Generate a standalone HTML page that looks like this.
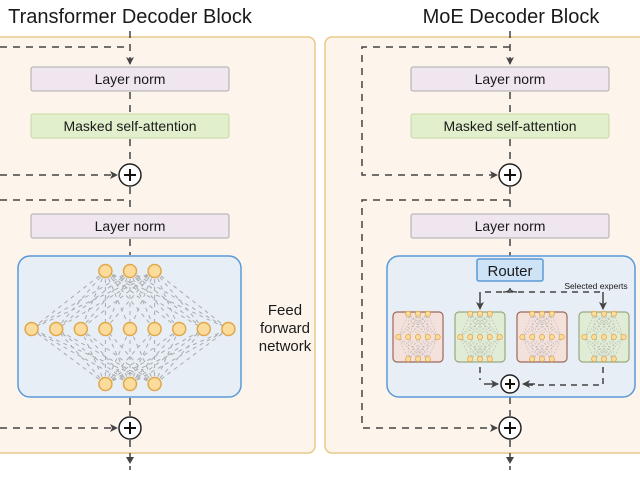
<!DOCTYPE html>
<html><head><meta charset="utf-8"><style>
html,body{margin:0;padding:0;background:#fff;width:640px;height:480px;overflow:hidden}
text{font-family:"Liberation Sans",sans-serif;fill:#1a1a1a}
</style></head><body>
<svg id="s" width="640" height="480" viewBox="0 0 640 480" xmlns="http://www.w3.org/2000/svg">
<defs>
<marker id="a" markerWidth="8" markerHeight="8" refX="7" refY="4" orient="auto" markerUnits="userSpaceOnUse"><path d="M0,0 L8,4 L0,8 L2,4z" fill="#444"/></marker>
</defs>
<text x="130" y="23" font-size="20" text-anchor="middle">Transformer Decoder Block</text>
<text x="511" y="23" font-size="20" text-anchor="middle">MoE Decoder Block</text>
<rect x="-10" y="37" width="325" height="416" rx="7" fill="#fdf5ec" stroke="#e8c98a" stroke-width="1.5"/>
<rect x="325" y="37" width="330" height="416" rx="7" fill="#fdf5ec" stroke="#e8c98a" stroke-width="1.5"/>
<g stroke="#444" stroke-width="1.5" fill="none" stroke-dasharray="7,6">
<path d="M130,31 V64" marker-end="url(#a)"/>
<path d="M0,47 H130"/>
<path d="M130,92 V113 M130,139 V163 M130,187 V213 M130,239 V255 M130,398 V416 M130,440 V470"/>
<path d="M0,175 H117" marker-end="url(#a)"/>
<path d="M0,200 H130"/>
<path d="M0,428 H117" marker-end="url(#a)"/>
<path d="M510,31 V64" marker-end="url(#a)"/>
<path d="M510,47 H362 V175 H497" marker-end="url(#a)"/>
<path d="M510,92 V113 M510,139 V163 M510,187 V213 M510,239 V258 M510,397 V416 M510,440 V470"/>
<path d="M510,200 H362 V428 H497" marker-end="url(#a)"/>
</g>
<path d="M130,464 l-4,-7 h8z M510,464 l-4,-7 h8z" fill="#444"/>
<g font-size="14" text-anchor="middle">
<rect x="31" y="67" width="198" height="24" rx="2" fill="#efe6ef" stroke="#aaa"/><text x="130" y="84">Layer norm</text>
<rect x="31" y="114" width="198" height="24" rx="2" fill="#e1efcc" stroke="#c3d9a3"/><text x="130" y="131">Masked self-attention</text>
<rect x="31" y="214" width="198" height="24" rx="2" fill="#efe6ef" stroke="#aaa"/><text x="130" y="231">Layer norm</text>
<rect x="411" y="67" width="198" height="24" rx="2" fill="#efe6ef" stroke="#aaa"/><text x="510" y="84">Layer norm</text>
<rect x="411" y="114" width="198" height="24" rx="2" fill="#e1efcc" stroke="#c3d9a3"/><text x="510" y="131">Masked self-attention</text>
<rect x="411" y="214" width="198" height="24" rx="2" fill="#efe6ef" stroke="#aaa"/><text x="510" y="231">Layer norm</text>
</g>
<rect x="18" y="256" width="223" height="141" rx="12" fill="#e8eef5" stroke="#5a9ad6" stroke-width="1.5"/>
<rect x="387" y="256" width="248" height="141" rx="12" fill="#e8eef5" stroke="#5a9ad6" stroke-width="1.5"/>
<g id="ffn"></g>
<g font-size="15" text-anchor="middle"><text x="285" y="315">Feed</text><text x="285" y="333">forward</text><text x="285" y="351">network</text></g>
<rect x="477" y="259" width="66" height="22" rx="2" fill="#cfe3f7" stroke="#5a9ad6" stroke-width="1.5"/>
<text x="510" y="276" font-size="15" text-anchor="middle">Router</text>
<text x="596" y="289" font-size="8.5" text-anchor="middle">Selected experts</text>
<g stroke="#444" stroke-width="1.5" fill="none" stroke-dasharray="6,5">
<path d="M485,292 H545 M550,292 H602"/>
<path d="M480,292 V309" marker-end="url(#a)" stroke-dasharray="none"/>
<path d="M603,292 V309" marker-end="url(#a)" stroke-dasharray="none"/>
<path d="M480,367 V380 M603,367 V385 H524" />
<path d="M484,384 H498" marker-end="url(#a)" stroke-dasharray="none"/>
<path d="M535,384 H523" marker-end="url(#a)" stroke-dasharray="none"/>
</g>
<path d="M503,292 q7,0 7,-4 q0,4 7,4" stroke="#444" fill="none" stroke-width="1.3"/>
<g id="exp"></g>
<g stroke="#222" stroke-width="1.5" fill="#fff">
<circle cx="130" cy="175" r="11"/><circle cx="130" cy="428" r="11"/><circle cx="510" cy="175" r="11"/><circle cx="510" cy="428" r="11"/><circle cx="510" cy="384" r="9"/>
</g>
<g stroke="#111" stroke-width="2"><path d="M124,175h12M130,169v12M124,428h12M130,422v12M504,175h12M510,169v12M504,428h12M510,422v12M505,384h10M510,379v10"/></g>
</svg>
<script>
var NS="http://www.w3.org/2000/svg";
function el(p,t,a){var e=document.createElementNS(NS,t);for(var k in a)e.setAttribute(k,a[k]);p.appendChild(e);return e;}
function net(g,cx,cy,sc,midn){
 var top=[],mid=[],bot=[],dx=24.6*sc;
 for(var i=-1;i<=1;i++){top.push([cx+i*dx,cy-58*sc]);bot.push([cx+i*dx,cy+55*sc]);}
 for(var i=0;i<midn;i++)mid.push([cx+(i-(midn-1)/2)*dx,cy]);
 var L=el(g,"g",{stroke:"#aaa","stroke-width":0.8*sc+0.2,"stroke-dasharray":(4*sc)+","+(4*sc)});
 top.forEach(function(t){mid.forEach(function(m){el(L,"line",{x1:t[0],y1:t[1],x2:m[0],y2:m[1]});});});
 bot.forEach(function(t){mid.forEach(function(m){el(L,"line",{x1:t[0],y1:t[1],x2:m[0],y2:m[1]});});});
 top.concat(mid,bot).forEach(function(p){el(g,"circle",{cx:p[0],cy:p[1],r:6.5*sc,fill:"#fbdc9c",stroke:"#e0a84a","stroke-width":1.2*sc+0.3});});
}
net(document.getElementById("ffn"),130,329,1,9);
var eg=document.getElementById("exp");
[[418,"#f4e1dc","#9a6a5a"],[480,"#e0ecd6","#9aa880"],[542,"#f4e1dc","#9a6a5a"],[604,"#e0ecd6","#9aa880"]].forEach(function(e){
 el(eg,"rect",{x:e[0]-25,y:312,width:50,height:50,rx:4,fill:e[1],stroke:e[2],"stroke-width":1.2});
 net(eg,e[0],337,0.4,5);
});
</script>
</body></html>
